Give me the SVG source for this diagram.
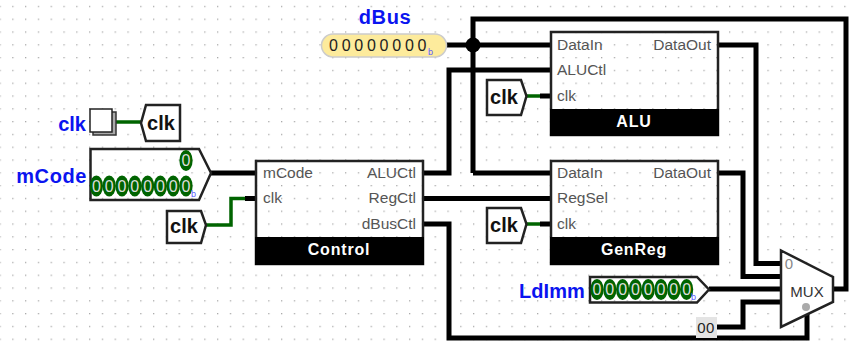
<svg xmlns="http://www.w3.org/2000/svg" width="849" height="341" viewBox="0 0 849 341">
<style>
text{font-family:"Liberation Sans",Arial,sans-serif}
.w{fill:none;stroke:#000;stroke-width:5;stroke-linejoin:miter}
.g{fill:none;stroke:#006400;stroke-width:3.5}
.n{fill:none;stroke:#222;stroke-width:2.5}
.t{fill:#fff;stroke:#222;stroke-width:2.5}
.b{fill:#000;stroke:#000;stroke-width:2}
.p{font-size:15.500px;fill:#555}
.e{text-anchor:end}
.h{font-size:16px;font-weight:bold;fill:#fff;text-anchor:middle;letter-spacing:.8px}
.l{font-size:20px;font-weight:bold;fill:#0a14f0;letter-spacing:.6px}
.k{font-size:20px;font-weight:bold;fill:#111;text-anchor:middle}
.o{fill:#006400}
.v{font-size:16px;fill:#ddd;text-anchor:middle}
.s{font-size:9px;fill:#5a5aff}
</style>
<defs>
<pattern id="dots" width="12.8" height="12.8" patternUnits="userSpaceOnUse" x="-.6" y="5.8"><rect width="1.3" height="1.3" fill="#aaa"/></pattern>
<g id="ov"><ellipse class="o" rx="6.600" ry="10.500"/><text class="v" y="5.500">0</text></g>
</defs>
<rect width="849" height="341" fill="#fff"/>
<rect width="849" height="341" fill="url(#dots)"/>
<g id="connectors">
<path class="w" d="M446 45H551"/>
<path class="w" d="M473 173V19H846V289H832"/>
<path class="w" d="M473 173H551"/>
<path class="w" d="M423 173H449V70H551"/>
<path class="w" d="M423 198.500H551"/>
<path class="w" d="M423 224H449V338H807V313"/>
<path class="w" d="M718 45H756V263.500H781"/>
<path class="w" d="M718 173H743V276.500H781"/>
<path class="w" d="M709 289H781"/>
<path class="w" d="M716 327H743V302H781"/>
<path class="w" d="M211 173H256"/>
<path class="w" d="M245 198.500H256"/>
<path class="w" d="M540 96H551"/>
<path class="w" d="M540 224H551"/>
<path class="g" d="M113 122H141"/>
<path class="g" d="M205 225H231V198.500H245"/>
<path class="g" d="M526 96H540"/>
<path class="g" d="M526 224H540"/>
<circle cx="473" cy="45" r="7.500"/>
</g>
<g id="clk-input">
<text class="l" x="86" y="131" text-anchor="end" style="letter-spacing:0">clk</text>
<rect x="93" y="112" width="23" height="23" fill="#aaa" stroke="#333" stroke-width="1.500"/>
<rect x="90" y="109" width="22" height="23" fill="#fff" stroke="#222" stroke-width="1.500"/>
</g>
<g id="clk-tunnel-1"><path class="t" d="M146 105H180V141H146L141 123Z"/><text class="k" x="161" y="130">clk</text></g>
<g id="mCode">
<text class="l" x="87" y="183" text-anchor="end">mCode</text>
<path class="n" d="M90.500 149H199L211 173L199 200H90.500Z"/>
<use href="#ov" x="186" y="160.500"/>
<use href="#ov" x="96.400" y="186"/><use href="#ov" x="109.200" y="186"/><use href="#ov" x="122" y="186"/><use href="#ov" x="134.800" y="186"/><use href="#ov" x="147.600" y="186"/><use href="#ov" x="160.400" y="186"/><use href="#ov" x="173.200" y="186"/><use href="#ov" x="186" y="186"/>
<text class="s" x="191" y="197">b</text>
</g>
<g id="clk-tunnel-2"><path class="t" d="M167 211H201L206 225L201 243H167Z"/><text class="k" x="184" y="233">clk</text></g>
<g id="Control">
<rect class="n" x="256" y="161" width="167" height="103"/>
<rect class="b" x="256" y="238" width="167" height="26"/>
<text class="p" x="263" y="178">mCode</text><text class="p" x="263" y="203">clk</text>
<text class="p e" x="416" y="178">ALUCtl</text><text class="p e" x="416" y="203">RegCtl</text><text class="p e" x="416" y="229">dBusCtl</text>
<text class="h" x="339" y="255">Control</text>
</g>
<g id="dBus">
<text class="l" x="385" y="24" text-anchor="middle">dBus</text>
<rect x="321.500" y="34" width="125" height="23" rx="11.500" fill="#fdeb9c" stroke="#ccc" stroke-width="1.500"/>
<text x="329 341.700 354.300 367 379.600 392.300 404.900 417.500" y="51" font-size="16" fill="#222">00000000</text>
<text class="s" x="428" y="55">b</text>
</g>
<g id="ALU">
<rect class="n" x="551" y="32" width="167" height="103"/>
<rect class="b" x="551" y="110" width="167" height="25"/>
<text class="p" x="557" y="50">DataIn</text><text class="p" x="557" y="75">ALUCtl</text><text class="p" x="557" y="101">clk</text>
<text class="p e" x="711" y="50">DataOut</text>
<text class="h" x="634" y="127">ALU</text>
</g>
<g id="clk-tunnel-3"><path class="t" d="M487 80H521L526.500 96L521 115H487Z"/><text class="k" x="504" y="104">clk</text></g>
<g id="GenReg">
<rect class="n" x="551" y="161" width="167" height="103"/>
<rect class="b" x="551" y="238" width="167" height="26"/>
<text class="p" x="557" y="178">DataIn</text><text class="p" x="557" y="203">RegSel</text><text class="p" x="557" y="229">clk</text>
<text class="p e" x="711" y="178">DataOut</text>
<text class="h" x="634" y="255">GenReg</text>
</g>
<g id="clk-tunnel-4"><path class="t" d="M487 208H521L526.500 224L521 243H487Z"/><text class="k" x="504" y="232">clk</text></g>
<g id="LdImm">
<text class="l" x="585" y="298" text-anchor="end" style="letter-spacing:.1px">LdImm</text>
<path class="n" d="M590 277H697L709 289.500L697 302.500H590Z"/>
<use href="#ov" x="597" y="289.500"/><use href="#ov" x="609.800" y="289.500"/><use href="#ov" x="622.600" y="289.500"/><use href="#ov" x="635.400" y="289.500"/><use href="#ov" x="648.200" y="289.500"/><use href="#ov" x="661" y="289.500"/><use href="#ov" x="673.800" y="289.500"/><use href="#ov" x="686.600" y="289.500"/>
<text class="s" x="691" y="300">b</text>
</g>
<g id="const-00">
<rect x="696" y="317" width="21" height="21" fill="#e4e4e4"/>
<text x="706" y="333" font-size="15" letter-spacing=".5" fill="#222" text-anchor="middle">00</text>
</g>
<g id="MUX">
<path d="M781 250.500L833 277V302L781 327Z" fill="#fff" stroke="#222" stroke-width="2.500"/>
<text x="789" y="269" font-size="15" fill="#888" text-anchor="middle">0</text>
<text x="807" y="297" font-size="15" fill="#333" text-anchor="middle">MUX</text>
<circle cx="806" cy="307" r="4" fill="#aaa"/>
</g>
</svg>
